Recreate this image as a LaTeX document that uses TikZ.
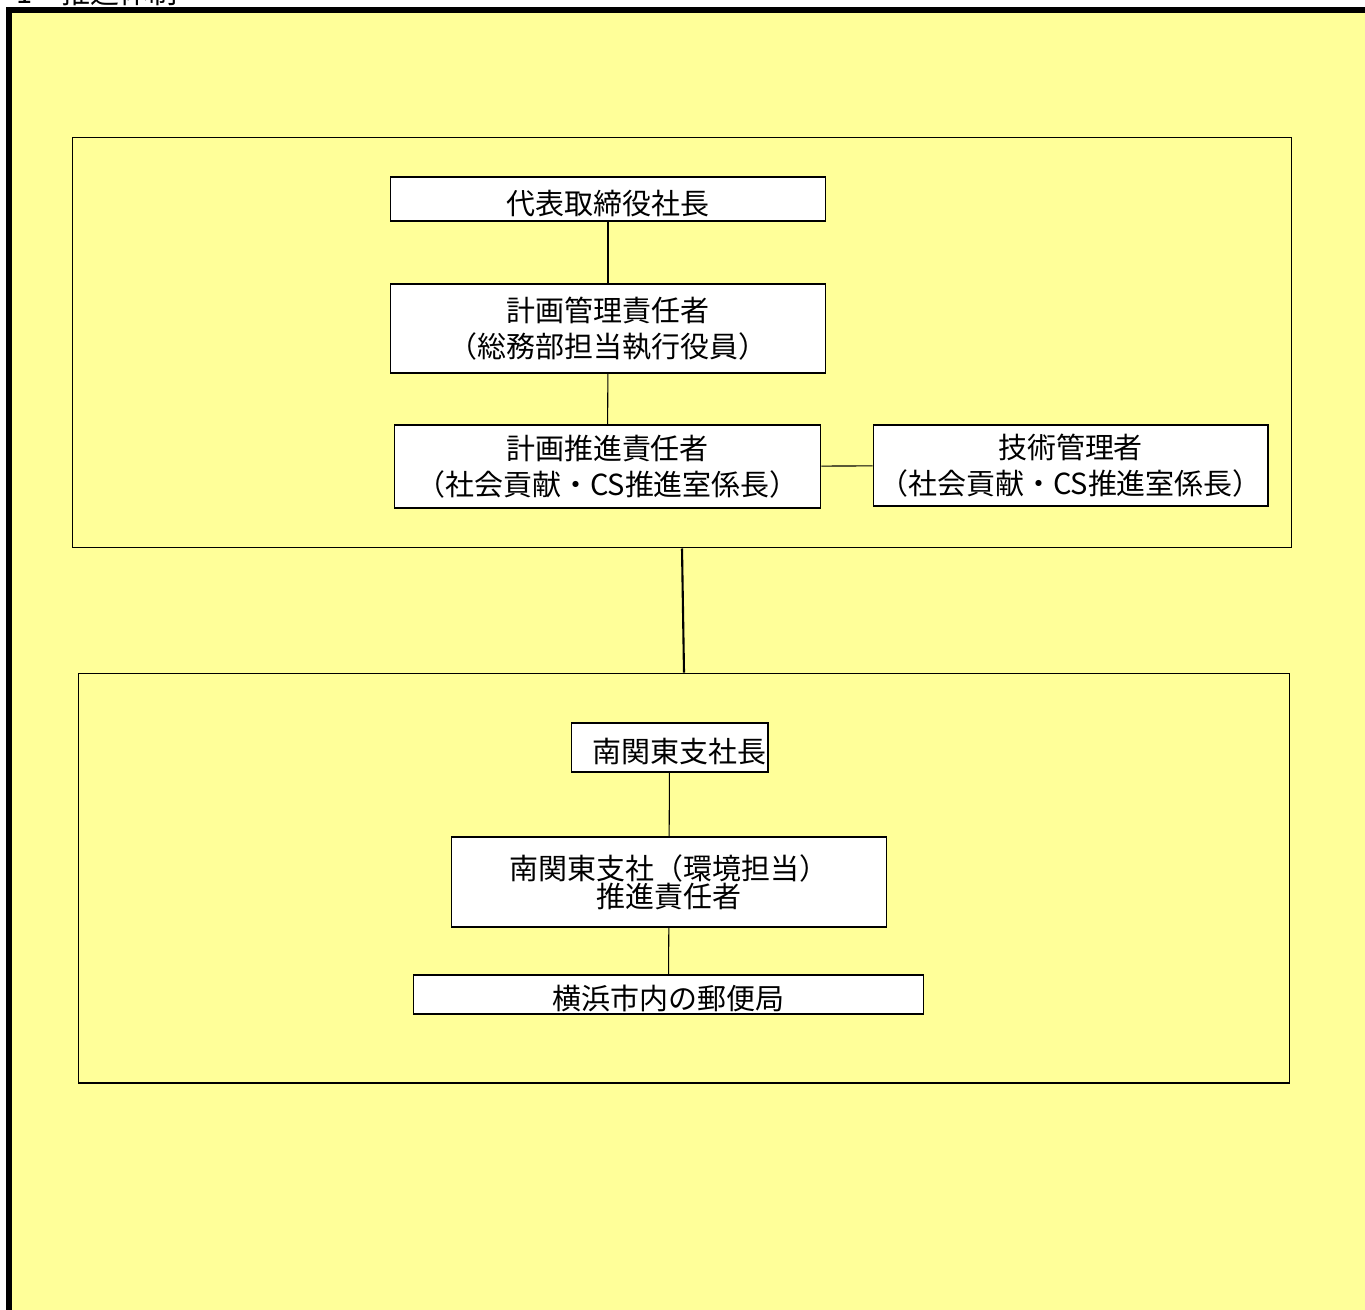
\documentclass[tikz,border=0pt]{standalone}
\usepackage{fontspec}
\setmainfont{Noto Sans CJK JP}
\definecolor{paper}{RGB}{255,255,153}
\tikzset{
  post/.style={draw, fill=white, inner sep=0pt, line width=0.6pt, align=center,
    font=\fontsize{16.5}{20.5}\selectfont},
  onepost/.style={post, text height=19.5pt, text depth=2pt},
  group/.style={draw, inner sep=0pt, line width=0.6pt},
  link/.style={line width=0.6pt}
}
\begin{document}
\begin{tikzpicture}[x=0.02cm, y=-0.02cm]
                        \useasboundingbox (0,0) rectangle (1365,1309);
                        \draw[line width=0.12cm, fill=paper] (9,10) rectangle (1420,1360);
                        \node[anchor=base west, font=\fontsize{16.5}{20}\selectfont] (title) at (10,3) {1　推進体制};

                        \node[group, minimum width=24.4cm, minimum height=8.22cm] (upper) at (682,342.5) {};
                        \node[group, minimum width=24.24cm, minimum height=8.2cm] (lower) at (684,878) {};

                        \node[onepost, minimum width=8.72cm, minimum height=0.88cm] (ceo) at (608,199) {代表取締役社長};
                        \node[post, minimum width=8.72cm, minimum height=1.78cm] (plan) at (608,328.5) {計画管理責任者\\（総務部担当執行役員）};
                        \node[post, minimum width=8.54cm, minimum height=1.66cm] (promo) at (607.5,466.5) {計画推進責任者\\（社会貢献・CS推進室係長）};
                        \node[post, minimum width=7.9cm, minimum height=1.62cm] (tech) at (1070.5,465.5) {技術管理者\\（社会貢献・CS推進室係長）};

                        \node[onepost, text width=3.86cm, inner xsep=0.04cm, align=right, minimum height=0.98cm] (branch) at (669.5,747.5) {南関東支社長};
                        \node[post, minimum width=8.72cm, minimum height=1.8cm, font=\fontsize{16.5}{16}\selectfont] (env) at (669,882) {南関東支社（環境担当）\\推進責任者};
                        \node[onepost, minimum width=10.22cm, minimum height=0.78cm] (office) at (668.5,994.5) {横浜市内の郵便局};

                        \draw[link] (ceo) -- (plan);
                        \draw[link] (plan) -- (promo);
                        \draw[link] (promo) -- (tech);
                        \draw[line width=1.2pt] (upper.south) -- (lower.north);
                        \draw[link] (branch) -- (env);
                        \draw[link] (env) -- (office);
                    \end{tikzpicture}
\end{document}
